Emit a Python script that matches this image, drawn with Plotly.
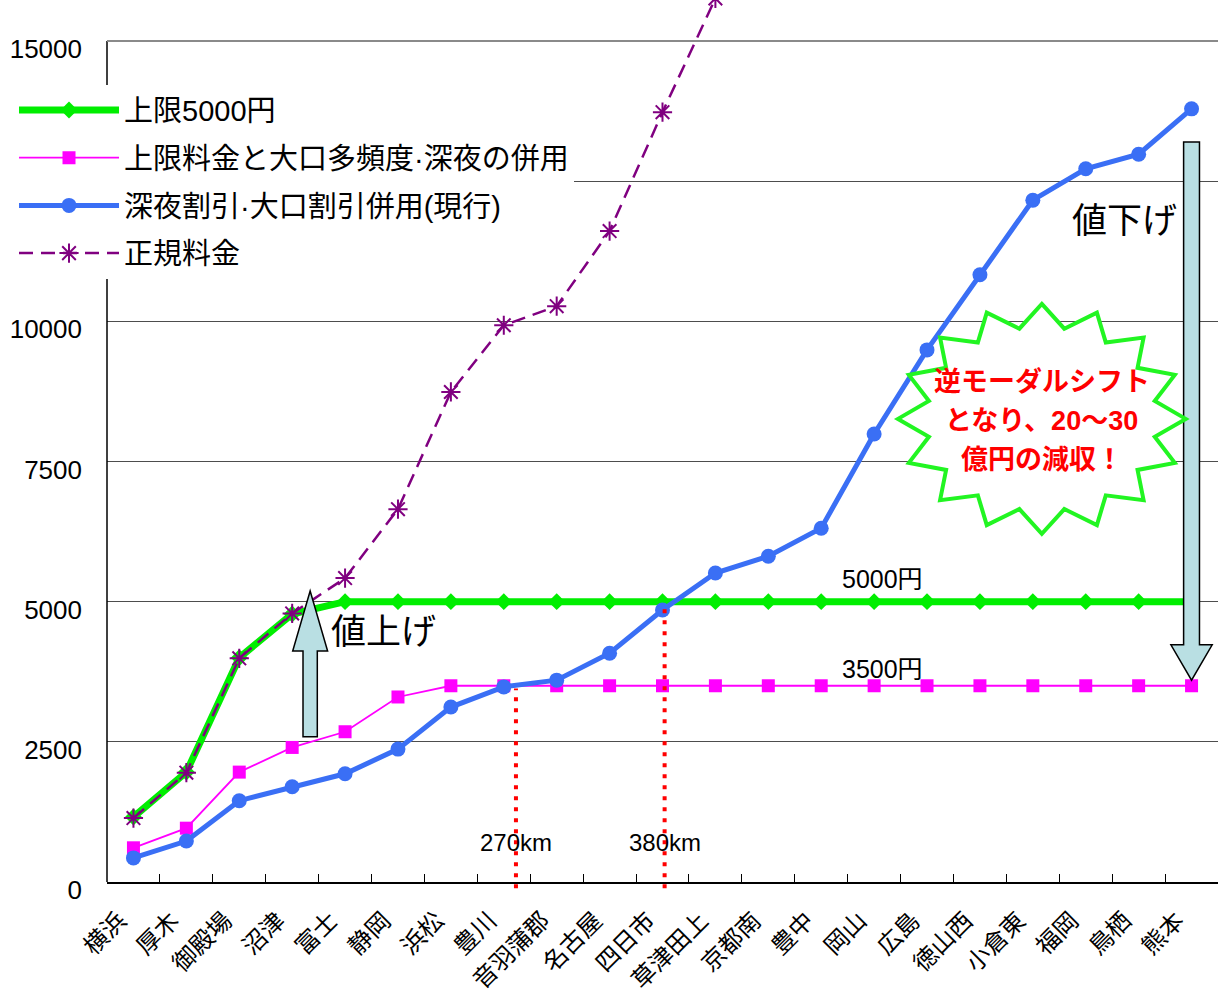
import math
import plotly.graph_objects as go

# Interchange names along the route (Tokyo side -> Kyushu)
stations = ["横浜", "厚木", "御殿場", "沼津", "富士", "静岡", "浜松", "豊川", "音羽蒲郡", "名古屋",
            "四日市", "草津田上", "京都南", "豊中", "岡山", "広島", "徳山西", "小倉東", "福岡", "鳥栖", "熊本"]

# Toll (yen) per plan
cap_5000 = [1160, 1960, 4000, 4780, 5000, 5000, 5000, 5000, 5000, 5000, 5000,
            5000, 5000, 5000, 5000, 5000, 5000, 5000, 5000, 5000, 5000]
cap_combined = [610, 960, 1960, 2400, 2680, 3300, 3500, 3500, 3500, 3500, 3500,
                3500, 3500, 3500, 3500, 3500, 3500, 3500, 3500, 3500, 3500]
current_discount = [430, 730, 1450, 1700, 1930, 2370, 3120, 3480, 3600, 4080, 4850,
                    5510, 5810, 6310, 7990, 9490, 10830, 12160, 12720, 12980, 13790]
regular_fare = [1140, 1950, 3990, 4790, 5420, 6650, 8740, 9930, 10270, 11610, 13730, 15760]

y_ticks = [0, 2500, 5000, 7500, 10000, 12500, 15000]
y_tick_text = ["0", "2500", "5000", "7500", "10000", "", "15000"]

# Distance markers on the current-discount curve
km_marks = [(7.23, 3450, "270km"), (10.04, 4950, "380km")]

FONT = "Liberation Sans, Noto Sans CJK JP"
Y_TOP = 15731

idx = list(range(len(stations)))

fig = go.Figure()
fig.add_trace(go.Scatter(
    x=idx, y=cap_5000, name="上限5000円", legendgroup="a",
    mode="lines+markers", line=dict(color="#00ee00", width=7),
    marker=dict(symbol="diamond", size=13, color="#00ee00")))
fig.add_trace(go.Scatter(
    x=idx, y=cap_combined, name="上限料金と大口多頻度·深夜の併用", legendgroup="b",
    mode="lines+markers", line=dict(color="#ff00ff", width=1.8),
    marker=dict(symbol="square", size=13, color="#ff00ff")))
fig.add_trace(go.Scatter(
    x=idx, y=current_discount, name="深夜割引·大口割引併用(現行)", legendgroup="c",
    mode="lines+markers", line=dict(color="#3a6ff5", width=5),
    marker=dict(symbol="circle", size=15, color="#3a6ff5")))
fig.add_trace(go.Scatter(
    x=idx[:len(regular_fare)], y=regular_fare, name="正規料金", legendgroup="d",
    mode="lines+markers", line=dict(color="#800080", width=2.5, dash="14px,8px"),
    marker=dict(symbol="asterisk-open", size=16, line=dict(color="#800080", width=2))))

shapes = []
# left axis line stops at the 15000 level; top border in grey
shapes.append(dict(type="line", xref="paper", yref="y", x0=0, x1=0, y0=0, y1=15000,
                   line=dict(color="black", width=1.5)))
shapes.append(dict(type="line", xref="paper", yref="y", x0=0, x1=1, y0=15000, y1=15000,
                   line=dict(color="#8a8a8a", width=2)))

# red dotted distance markers
for xk, yk, _ in km_marks:
    shapes.append(dict(type="line", xref="x", yref="paper", x0=xk, x1=xk,
                       y0=-0.007, y1=yk / Y_TOP, layer="above",
                       line=dict(color="red", width=4, dash="4px,7px")))


def arrow_path(xc, y_tail, y_base, y_tip, shaft_hw, head_hw):
    pts = [(xc - shaft_hw, y_tail), (xc - shaft_hw, y_base), (xc - head_hw, y_base),
           (xc, y_tip), (xc + head_hw, y_base), (xc + shaft_hw, y_base), (xc + shaft_hw, y_tail)]
    return "M" + " L".join(f"{px},{py}" for px, py in pts) + " Z"


arrow_style = dict(type="path", xref="x", yref="y", layer="above",
                   fillcolor="#b9dfe3", line=dict(color="black", width=1.5))
# price increase (up) and price decrease (down)
shapes.append(dict(path=arrow_path(3.34, 2590, 4120, 5190, 0.135, 0.33), **arrow_style))
shapes.append(dict(path=arrow_path(20.0, 13200, 4230, 3600, 0.15, 0.39), **arrow_style))

# starburst callout
cx, cy, rx, ry = 17.17, 8260, 2.72, 2050
pts = []
for k in range(32):
    ang = math.pi / 2 - k * math.pi / 16
    r = 1.0 if k % 2 == 0 else 0.8
    pts.append((cx + rx * r * math.cos(ang), cy + ry * r * math.sin(ang)))
burst = "M" + " L".join(f"{px:.4f},{py:.1f}" for px, py in pts) + " Z"
shapes.append(dict(type="path", xref="x", yref="y", path=burst, layer="above",
                   fillcolor="white", line=dict(color="#22f522", width=4)))

annotations = [
    dict(x=4.72, y=4460, text="値上げ", font=dict(size=35, color="black", family=FONT)),
    dict(x=18.74, y=11790, text="値下げ", font=dict(size=35, color="black", family=FONT)),
    dict(x=14.15, y=5400, text="5000円", font=dict(size=25, color="black", family=FONT)),
    dict(x=14.15, y=3800, text="3500円", font=dict(size=25, color="black", family=FONT)),
]
for xk, _, label in km_marks:
    annotations.append(dict(x=xk, y=700, text=label,
                            font=dict(size=24, color="black", family=FONT)))
burst_lines = [("逆モーダルシフト", 8920), ("となり、20～30", 8220), ("億円の減収！", 7530)]
for line_text, ly in burst_lines:
    annotations.append(dict(x=cx, y=ly, text=f"<b>{line_text}</b>",
                            font=dict(size=27, color="#ff0000", family=FONT)))
for a in annotations:
    a.update(xref="x", yref="y", showarrow=False, xanchor="center", yanchor="middle")

fig.update_layout(
    width=1218, height=995,
    margin=dict(l=107, r=0, t=0, b=113),
    paper_bgcolor="white", plot_bgcolor="white",
    shapes=shapes, annotations=annotations,
    legend=dict(x=-0.0837, y=0.904, xanchor="left", yanchor="top", bgcolor="white",
                font=dict(size=29, family=FONT, color="black"), itemwidth=100,
                tracegroupgap=7, traceorder="grouped"),
    xaxis=dict(range=[-0.5, 20.5], tickvals=[i - 0.27 for i in idx], ticktext=stations,
               tickangle=-45, ticks="", showgrid=False, zeroline=False, automargin=False,
               showline=True, linecolor="black", linewidth=2, ticklabelstandoff=13,
               tickfont=dict(size=24, color="black", family=FONT),
               minor=dict(tickvals=[i + 0.5 for i in range(20)], ticks="inside",
                          ticklen=8, tickcolor="black", tickwidth=1)),
    yaxis=dict(range=[0, Y_TOP], tickvals=y_ticks, ticktext=y_tick_text, automargin=False,
               showgrid=True, gridcolor="#4d4d4d", gridwidth=1, zeroline=False,
               showline=False, ticks="", ticklabelstandoff=24, ticklabelshift=8,
               tickfont=dict(size=26, color="black", family=FONT)),
)

fig.write_html("out.html")
